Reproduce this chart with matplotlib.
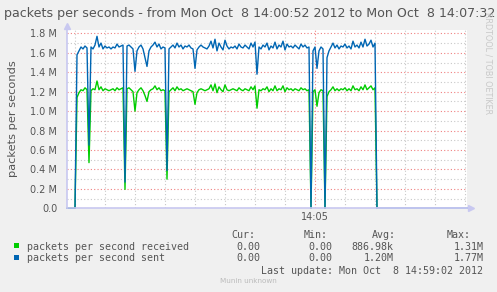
import numpy as np
import matplotlib
matplotlib.use("Agg")
import matplotlib.pyplot as plt
from matplotlib.patches import Rectangle


# DATA (values in millions of packets/s, one sample every 2 s from 14:00:52)

step = 2
received = [
    0, 0, 0, 0, 0,
    1.14, 1.19, 1.22, 1.21, 1.24, 1.22,
    0.47,
    1.21, 1.23, 1.22, 1.31, 1.22, 1.25, 1.21, 1.23, 1.22, 1.21, 1.22, 1.23, 1.21, 1.24, 1.22, 1.23, 1.24,
    0.195,
    1.23, 1.24, 1.22, 1.20,
    1.00,
    1.19, 1.22, 1.24, 1.21, 1.16, 1.10, 1.20, 1.22, 1.23, 1.26, 1.22, 1.24, 1.21, 1.22, 1.21,
    0.30,
    1.20, 1.22, 1.24, 1.21, 1.25, 1.22, 1.23, 1.21, 1.22, 1.23, 1.22, 1.21, 1.20,
    1.07,
    1.19, 1.22, 1.23, 1.22, 1.21, 1.22, 1.23, 1.27, 1.21, 1.28, 1.19, 1.25, 1.22, 1.20, 1.27, 1.22,
    1.21, 1.22, 1.23, 1.22, 1.21, 1.24, 1.22, 1.21, 1.23, 1.22, 1.21, 1.25, 1.22, 1.26,
    1.03,
    1.22, 1.21, 1.23, 1.22, 1.25, 1.20, 1.23, 1.21, 1.26, 1.21, 1.23, 1.22, 1.26, 1.20, 1.24, 1.22,
    1.23, 1.21, 1.23, 1.22, 1.21, 1.24, 1.22, 1.23, 1.21, 1.22,
    0.0,
    1.20, 1.22,
    1.05,
    1.19, 1.22, 1.21,
    0.0,
    1.15, 1.20, 1.22, 1.25, 1.21, 1.23, 1.21, 1.23, 1.22, 1.24, 1.21, 1.23, 1.21, 1.26, 1.22, 1.23,
    1.21, 1.25, 1.22, 1.27, 1.22, 1.24, 1.26, 1.22, 1.24,
] + [0.0] * 46

sent = [
    0, 0, 0, 0, 0,
    1.58, 1.62, 1.66, 1.64, 1.67, 1.65,
    0.65,
    1.66, 1.64, 1.68, 1.77, 1.66, 1.70, 1.64, 1.67, 1.65, 1.66, 1.64, 1.66, 1.65, 1.69, 1.66, 1.67, 1.68,
    0.27,
    1.67, 1.68, 1.66, 1.64,
    1.41,
    1.62, 1.66, 1.68, 1.64, 1.55, 1.46, 1.62, 1.66, 1.68, 1.71, 1.66, 1.69, 1.64, 1.66, 1.65,
    0.39,
    1.64, 1.66, 1.68, 1.65, 1.70, 1.66, 1.68, 1.64, 1.67, 1.66, 1.68, 1.65, 1.64,
    1.44,
    1.63, 1.66, 1.68, 1.66, 1.65, 1.64, 1.67, 1.72, 1.65, 1.74, 1.62, 1.70, 1.66, 1.63, 1.73, 1.67,
    1.64, 1.66, 1.65, 1.67, 1.64, 1.69, 1.66, 1.65, 1.68, 1.66, 1.64, 1.70, 1.66, 1.71,
    1.38,
    1.66, 1.64, 1.68, 1.66, 1.70, 1.63, 1.67, 1.65, 1.71, 1.64, 1.68, 1.66, 1.72, 1.63, 1.69, 1.66,
    1.67, 1.65, 1.68, 1.66, 1.64, 1.69, 1.66, 1.68, 1.65, 1.66,
    0.0,
    1.62, 1.66,
    1.44,
    1.62, 1.66, 1.64,
    0.0,
    1.55, 1.62, 1.66, 1.70, 1.65, 1.68, 1.64, 1.67, 1.66, 1.69, 1.65, 1.67, 1.64, 1.72, 1.66, 1.68,
    1.65, 1.71, 1.66, 1.74, 1.67, 1.69, 1.73, 1.66, 1.70,
] + [0.0] * 46

t = np.arange(len(sent)) * step

title = "packets per seconds - from Mon Oct  8 14:00:52 2012 to Mon Oct  8 14:07:32"
ylabel = "packets per seconds"
y_ticks = [0.0, 0.2, 0.4, 0.6, 0.8, 1.0, 1.2, 1.4, 1.6, 1.8]
y_ticklabels = ["0.0", "0.2 M", "0.4 M", "0.6 M", "0.8 M", "1.0 M", "1.2 M", "1.4 M", "1.6 M", "1.8 M"]
x_major = [248]          # 14:05:00
x_labels = ["14:05"]
x_minor = list(range(8, 400, 30))   # every 30 s from 14:01:00

labels = ["packets per second received", "packets per second sent"]
cur = ["0.00", "0.00"]
mins = ["0.00", "0.00"]
avgs = ["886.98k", "1.20M"]
maxs = ["1.31M", "1.77M"]
last_update = "Last update: Mon Oct  8 14:59:02 2012"

colors = ["#00CC00", "#0066B3"]


# FIGURE

W, H = 497, 292
fig = plt.figure(figsize=(W / 100, H / 100), dpi=100, facecolor="#F0F0F0")


def px(x, y):
    return x / W, 1 - y / H


ax = fig.add_axes([67 / W, 1 - 208.3 / H, 400 / W, (208.3 - 29.5) / H])
ax.set_facecolor("white")

ax.set_xlim(0, 400)
ax.set_ylim(0, 1.84)

ax.set_yticks(y_ticks)
ax.set_yticklabels(y_ticklabels)
ax.set_yticks(np.arange(0.1, 1.84, 0.2), minor=True)
ax.set_xticks(x_major)
ax.set_xticklabels(x_labels)
ax.set_xticks(x_minor, minor=True)

ax.grid(True, which="major", color="#F08080", linestyle=(0, (1, 2)), linewidth=0.8)
ax.grid(True, which="minor", color="#C8C8C8", linestyle=(0, (1, 2)), linewidth=0.8)
ax.set_axisbelow(True)

ax.tick_params(which="both", length=0, colors="#555555", labelsize=7)
ax.tick_params(axis="y", pad=7)
ax.tick_params(axis="x", pad=3)

for s in ["top", "right"]:
    ax.spines[s].set_visible(False)
for s in ["left", "bottom"]:
    ax.spines[s].set_color("#C8C8F0")
    ax.spines[s].set_linewidth(1.2)

# arrows at end of axes
ax.plot(0, 1.02, marker="^", color="#C8C8F0", markersize=4, transform=ax.transAxes, clip_on=False)
ax.plot(1.01, 0, marker=">", color="#C8C8F0", markersize=4, transform=ax.transAxes, clip_on=False)

# last non-zero sample: after it the series is flat at zero
last = max(i for i, v in enumerate(sent) if v > 0) + 1

ax.plot(t[:last + 1], received[:last + 1], color=colors[0], linewidth=1.0, clip_on=False)
ax.plot(t[:last + 1], sent[:last + 1], color=colors[1], linewidth=1.0, clip_on=False)
ax.plot(t[last:], sent[last:], color="#7FA6E0", linewidth=1.2, clip_on=False)

ax.set_ylabel(ylabel, color="#555555", fontsize=8.2)
ax.yaxis.set_label_coords(-0.122, 0.5)

# TITLE

fig.text(*px(4, 13), title, fontsize=9.1, color="#555555", va="center", ha="left")

# WATERMARK

fig.text(*px(488, 12), "RRDTOOL / TOBI OETIKER", rotation=-90, fontsize=5.8, color="#C8C8C8",
         va="top", ha="center")

# LEGEND

mono = "DejaVu Sans Mono"
fs = 7.2
tc = "#555555"
for txt, x in zip(["Cur:", "Min:", "Avg:", "Max:"], [231, 303.3, 371.7, 446.7]):
    fig.text(*px(x, 234.5), txt, family=mono, fontsize=fs, color=tc, va="center_baseline", ha="left")

for i, yy in enumerate([245.7, 257.3]):
    fig.patches.append(Rectangle(px(14, yy + 2.2), 4.5 / W, 4.5 / H, transform=fig.transFigure,
                                 facecolor=colors[i], edgecolor="none"))
    fig.text(*px(26.7, yy), labels[i], family=mono, fontsize=fs, color=tc, va="center_baseline", ha="left")
    fig.text(*px(260, yy), cur[i], family=mono, fontsize=fs, color=tc, va="center_baseline", ha="right")
    fig.text(*px(332.7, yy), mins[i], family=mono, fontsize=fs, color=tc, va="center_baseline", ha="right")
    fig.text(*px(393.3, yy), avgs[i], family=mono, fontsize=fs, color=tc, va="center_baseline", ha="right")
    fig.text(*px(483.3, yy), maxs[i], family=mono, fontsize=fs, color=tc, va="center_baseline", ha="right")

fig.text(*px(483.3, 269.5), last_update, family=mono, fontsize=fs, color=tc, va="center_baseline", ha="right")
fig.text(*px(248.5, 281.3), "Munin unknown", fontsize=5.2, color="#BBBBBB", va="center", ha="center")

fig.savefig("out.png", dpi=100, facecolor=fig.get_facecolor())
